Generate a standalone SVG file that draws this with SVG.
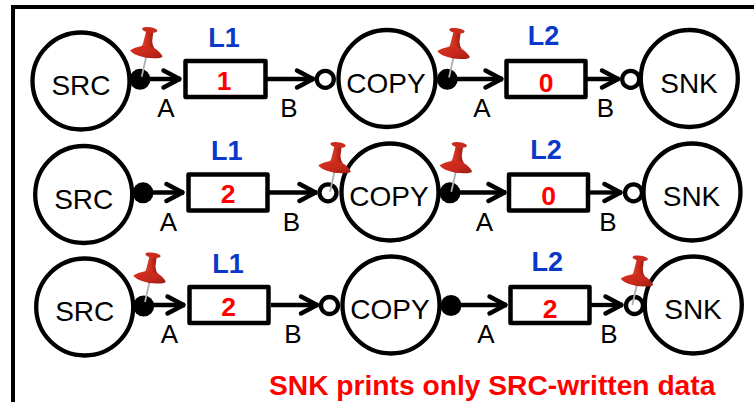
<svg xmlns="http://www.w3.org/2000/svg" width="754" height="402" viewBox="0 0 754 402">
<defs>
<style>
text{font-family:"Liberation Sans",Arial,sans-serif}
.node{fill:#fff;stroke:#000;stroke-width:4.300}
.lbl{font-size:28px;fill:#000;text-anchor:middle}
.port{font-size:26px;fill:#000;text-anchor:middle}
.name{font-size:27px;font-weight:bold;fill:#0a38c8;text-anchor:middle}
.val{font-size:26.500px;font-weight:bold;fill:#f00;text-anchor:middle}
.buf{fill:#fff;stroke:#000;stroke-width:4.500;stroke-linejoin:round}
.out{fill:#000}
.in{fill:#fff;stroke:#000;stroke-width:4.300}
.conn{stroke:#000;stroke-width:4.300;fill:none;marker-end:url(#arrow)}
</style>
<marker id="arrow" markerUnits="userSpaceOnUse" markerWidth="24" markerHeight="26" refX="21.500" refY="12" orient="auto">
<path d="M4 3.500L20 12L4 20.500" fill="none" stroke="#000" stroke-width="4.500" stroke-linecap="round" stroke-linejoin="round"/>
</marker>
<linearGradient id="pinBody" x1="0" x2="1" y1="0" y2="0">
<stop offset="0" stop-color="#e0452f"/><stop offset="0.55" stop-color="#c92b1c"/><stop offset="1" stop-color="#8f1810"/>
</linearGradient>
<linearGradient id="pinDisc" x1="0" x2="1" y1="0" y2="1">
<stop offset="0" stop-color="#d8301f"/><stop offset="0.6" stop-color="#c4281b"/><stop offset="1" stop-color="#9a1a10"/>
</linearGradient>
<g id="pin">
<path d="M0 0L4.500 -20" stroke="#a9b0b6" stroke-width="1.800" fill="none"/>
<path d="M4.300 -45L11.600 -44.500L10.500 -36Q10.500 -31 13 -28L-1 -29Q1.500 -32 2.300 -37Z" fill="url(#pinBody)"/>
<ellipse cx="8" cy="-46.800" rx="7.700" ry="2.600" transform="rotate(8 8 -46.800)" fill="#c92b1c"/>
<path d="M-11.700 -26.500Q-7 -29.500 -1 -30.500Q6 -31.500 12 -29Q18 -25.500 20.800 -20.500Q20 -18.500 14 -18.500Q5 -18 -3 -21Q-9 -23 -11.700 -26.500Z" fill="url(#pinDisc)"/>
</g>
</defs>
<rect width="754" height="402" fill="#fff"/>
<path d="M13 402V7H754" fill="none" stroke="#000" stroke-width="4"/>
<g id="connectors">
<path class="conn" d="M140 79H181"/><path class="conn" d="M267 79H314.500"/>
<path class="conn" d="M447 79H503"/><path class="conn" d="M587 79H619.500"/>
<path class="conn" d="M143 192.500H184"/><path class="conn" d="M269 192.500H317"/>
<path class="conn" d="M450 192.500H506"/><path class="conn" d="M590 192.500H622"/>
<path class="conn" d="M144 305H185"/><path class="conn" d="M271 305H318.500"/>
<path class="conn" d="M451 305H507"/><path class="conn" d="M591 305H623"/>
</g>
<g id="row1">
<g id="src1"><circle class="node" cx="81" cy="81" r="48.500"/><text class="lbl" x="81" y="95">SRC</text></g>
<g id="src1-out"><circle class="out" cx="140" cy="79.300" r="10.500"/><text class="port" x="166" y="117">A</text></g>
<g id="l1-1"><text class="name" x="224" y="46.500">L1</text><rect class="buf" x="185.500" y="61" width="80" height="36"/><text class="val" x="224" y="90">1</text></g>
<g id="copy1-in"><circle class="in" cx="325.300" cy="79.300" r="8.500"/><text class="port" x="289" y="117">B</text></g>
<g id="copy1"><circle class="node" cx="387" cy="78.500" r="48.500"/><text class="lbl" x="386" y="92.500">COPY</text></g>
<g id="copy1-out"><circle class="out" cx="447.300" cy="79.300" r="10.500"/><text class="port" x="482" y="117">A</text></g>
<g id="l2-1"><text class="name" x="543.500" y="45">L2</text><rect class="buf" x="506.500" y="61" width="79" height="36"/><text class="val" x="546" y="92">0</text></g>
<g id="snk1-in"><circle class="in" cx="630.700" cy="79.300" r="8.500"/><text class="port" x="605.300" y="117">B</text></g>
<g id="snk1"><circle class="node" cx="689.300" cy="78.500" r="48.500"/><text class="lbl" x="689" y="92.500">SNK</text></g>
</g>
<g id="row2">
<g id="src2"><circle class="node" cx="83.700" cy="194.500" r="48.500"/><text class="lbl" x="83.700" y="208.500">SRC</text></g>
<g id="src2-out"><circle class="out" cx="143" cy="192.800" r="10.500"/><text class="port" x="168.500" y="230.500">A</text></g>
<g id="l1-2"><text class="name" x="226.700" y="160">L1</text><rect class="buf" x="188.500" y="174.500" width="79" height="36"/><text class="val" x="228" y="203">2</text></g>
<g id="copy2-in"><circle class="in" cx="328" cy="192.800" r="8.500"/><text class="port" x="291.500" y="230.500">B</text></g>
<g id="copy2"><circle class="node" cx="390" cy="192" r="48.500"/><text class="lbl" x="389" y="206">COPY</text></g>
<g id="copy2-out"><circle class="out" cx="450" cy="192.800" r="10.500"/><text class="port" x="484.500" y="230.500">A</text></g>
<g id="l2-2"><text class="name" x="546" y="158.500">L2</text><rect class="buf" x="509" y="174.500" width="79" height="36"/><text class="val" x="548.500" y="205">0</text></g>
<g id="snk2-in"><circle class="in" cx="633.500" cy="192.800" r="8.500"/><text class="port" x="608" y="230.500">B</text></g>
<g id="snk2"><circle class="node" cx="692" cy="192" r="48.500"/><text class="lbl" x="691.500" y="206">SNK</text></g>
</g>
<g id="row3">
<g id="src3"><circle class="node" cx="84.700" cy="307" r="48.500"/><text class="lbl" x="84.700" y="321">SRC</text></g>
<g id="src3-out"><circle class="out" cx="143.700" cy="306" r="10.500"/><text class="port" x="169.500" y="343">A</text></g>
<g id="l1-3"><text class="name" x="228" y="272.500">L1</text><rect class="buf" x="189.500" y="287" width="79" height="36"/><text class="val" x="228.500" y="316">2</text></g>
<g id="copy3-in"><circle class="in" cx="329.500" cy="305.500" r="8.500"/><text class="port" x="293" y="343">B</text></g>
<g id="copy3"><circle class="node" cx="391" cy="305" r="48.500"/><text class="lbl" x="390" y="319">COPY</text></g>
<g id="copy3-out"><circle class="out" cx="451" cy="305.500" r="10.500"/><text class="port" x="486" y="343">A</text></g>
<g id="l2-3"><text class="name" x="547.300" y="270.500">L2</text><rect class="buf" x="510.500" y="287" width="79" height="36"/><text class="val" x="550" y="318">2</text></g>
<g id="snk3-in"><circle class="in" cx="634.500" cy="305.500" r="8.500"/><text class="port" x="609" y="343">B</text></g>
<g id="snk3"><circle class="node" cx="693.300" cy="305" r="48.500"/><text class="lbl" x="693" y="319">SNK</text></g>
</g>
<use href="#pin" x="141.700" y="76.700"/>
<use href="#pin" x="449" y="77.500"/>
<use href="#pin" x="330" y="191.700"/>
<use href="#pin" x="451.300" y="191.700"/>
<use href="#pin" x="145" y="302"/>
<use href="#pin" x="632.300" y="305"/>
<text id="note" x="269" y="395" font-size="28.200" font-weight="bold" fill="#f00">SNK prints only SRC-written data</text>
</svg>
